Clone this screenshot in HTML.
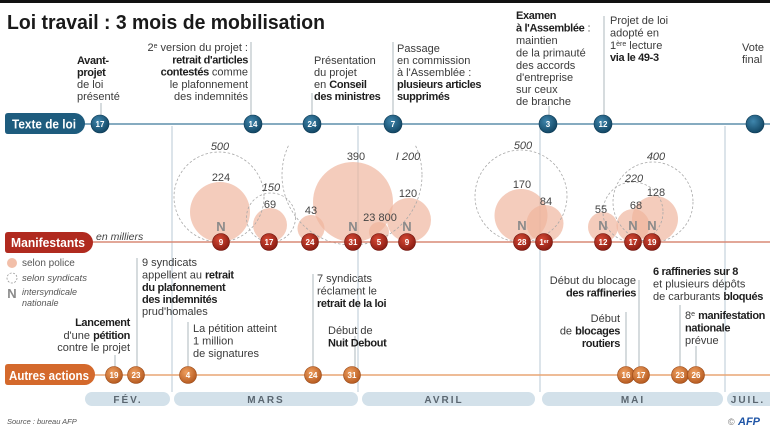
<!DOCTYPE html>
<html><head><meta charset="utf-8"><style>
html,body{margin:0;padding:0;background:#fff;}
svg{display:block;font-family:"Liberation Sans",sans-serif;}
.t{font-size:11px;fill:#3a3a3a;}
.b{font-weight:bold;fill:#1e1e1e;letter-spacing:-0.35px;}
.lbl{font-size:11px;fill:#444;text-anchor:middle;}
.it{font-style:italic;}
.num{font-size:8px;font-weight:bold;fill:#fff;text-anchor:middle;}
.N{font-size:13px;font-weight:bold;fill:#8a8a8a;text-anchor:middle;}
.vl{stroke:#b9c9d4;stroke-width:1;}
.al{stroke:#9aa6ae;stroke-width:0.8;}
.mo{font-size:10px;font-weight:bold;fill:#5a6670;text-anchor:middle;letter-spacing:2px;}
.pol{fill:#efb49c;fill-opacity:0.68;}
.syn{fill:none;stroke:#a8a8a8;stroke-width:0.8;stroke-dasharray:2.5 2;}
</style></head><body>
<svg width="770" height="433" viewBox="0 0 770 433" xmlns="http://www.w3.org/2000/svg">
<defs>
<radialGradient id="gb" cx="40%" cy="35%" r="70%"><stop offset="0" stop-color="#3f86ad"/><stop offset="1" stop-color="#0f425f"/></radialGradient>
<radialGradient id="gr" cx="40%" cy="35%" r="70%"><stop offset="0" stop-color="#d64a36"/><stop offset="1" stop-color="#861910"/></radialGradient>
<radialGradient id="go" cx="40%" cy="35%" r="70%"><stop offset="0" stop-color="#f0a060"/><stop offset="1" stop-color="#b2561c"/></radialGradient>
<clipPath id="clipbig"><rect x="0" y="145" width="770" height="100"/></clipPath>
</defs>

<!-- top bar -->
<rect x="0" y="0" width="770" height="3" fill="#111"/>
<text x="7" y="29" font-size="20" font-weight="bold" fill="#1a1a1a" textLength="318" lengthAdjust="spacingAndGlyphs">Loi travail : 3 mois de mobilisation</text>

<!-- month separator lines -->
<line class="vl" x1="172" y1="126" x2="172" y2="392"/>
<line class="vl" x1="358" y1="126" x2="358" y2="392"/>
<line class="vl" x1="540" y1="126" x2="540" y2="392"/>
<line class="vl" x1="725" y1="126" x2="725" y2="392"/>

<!-- top annotation leader lines -->
<line class="al" x1="101" y1="103" x2="101" y2="115"/>
<line class="al" x1="251" y1="42" x2="251" y2="115"/>
<line class="al" x1="312" y1="93" x2="312" y2="115"/>
<line class="al" x1="393" y1="42" x2="393" y2="115"/>
<line class="al" x1="549" y1="106" x2="549" y2="115"/>
<line class="al" x1="604" y1="16" x2="604" y2="115"/>

<!-- top annotations -->
<text class="t" x="77"><tspan x="77" y="64" class="b">Avant-</tspan><tspan x="77" y="76" class="b">projet</tspan><tspan x="77" y="88">de loi</tspan><tspan x="77" y="100">présenté</tspan></text>
<text class="t" text-anchor="end"><tspan x="248" y="51">2<tspan font-size="7" dy="-3">e</tspan><tspan dy="3"> version du projet :</tspan></tspan><tspan x="248" y="63.3" class="b">retrait d'articles</tspan><tspan x="248" y="75.6"><tspan class="b">contestés</tspan> comme</tspan><tspan x="248" y="87.9">le plafonnement</tspan><tspan x="248" y="100">des indemnités</tspan></text>
<text class="t"><tspan x="314" y="64">Présentation</tspan><tspan x="314" y="76">du projet</tspan><tspan x="314" y="88">en <tspan class="b">Conseil</tspan></tspan><tspan x="314" y="100" class="b">des ministres</tspan></text>
<text class="t"><tspan x="397" y="52">Passage</tspan><tspan x="397" y="64">en commission</tspan><tspan x="397" y="76">à l'Assemblée :</tspan><tspan x="397" y="88" class="b">plusieurs articles</tspan><tspan x="397" y="100" class="b">supprimés</tspan></text>
<text class="t"><tspan x="516" y="19" class="b">Examen</tspan><tspan x="516" y="31.5"><tspan class="b">à l'Assemblée</tspan> :</tspan><tspan x="516" y="44">maintien</tspan><tspan x="516" y="56.5">de la primauté</tspan><tspan x="516" y="69">des accords</tspan><tspan x="516" y="81">d'entreprise</tspan><tspan x="516" y="93">sur ceux</tspan><tspan x="516" y="105">de branche</tspan></text>
<text class="t"><tspan x="610" y="24">Projet de loi</tspan><tspan x="610" y="36.5">adopté en</tspan><tspan x="610" y="49">1<tspan font-size="7" dy="-3">ère</tspan><tspan dy="3"> lecture</tspan></tspan><tspan x="610" y="61" class="b">via le 49-3</tspan></text>
<text class="t"><tspan x="742" y="51">Vote</tspan><tspan x="742" y="63">final</tspan></text>

<!-- Texte de loi row -->
<line x1="84" y1="124" x2="770" y2="124" stroke="#5e8fac" stroke-width="1.5"/>
<path d="M5,116 q0,-3 3,-3 H74.5 a10.5,10.5 0 0 1 0,21 H8 q-3,0 -3,-3 Z" fill="#1e5c7e"/>
<text x="12" y="128.5" font-size="12.5" font-weight="bold" fill="#fff" textLength="64" lengthAdjust="spacingAndGlyphs">Texte de loi</text>
<g fill="url(#gb)" stroke="#0c3a55" stroke-width="0.6">
<circle cx="100" cy="124" r="9"/><circle cx="253" cy="124" r="9"/><circle cx="312" cy="124" r="9"/><circle cx="393" cy="124" r="9"/><circle cx="548" cy="124" r="9"/><circle cx="603" cy="124" r="9"/><circle cx="755" cy="124" r="9"/>
</g>
<g class="num"><text x="100" y="127" class="num">17</text><text x="253" y="127" class="num">14</text><text x="312" y="127" class="num">24</text><text x="393" y="127" class="num">7</text><text x="548" y="127" class="num">3</text><text x="603" y="127" class="num">12</text></g>

<!-- bubbles police -->
<circle class="pol" cx="220" cy="212" r="30"/>
<circle class="pol" cx="270" cy="225" r="17"/>
<circle class="pol" cx="311" cy="228.5" r="13.5"/>
<circle class="pol" cx="353" cy="202" r="40"/>
<circle class="pol" cx="379" cy="232" r="10"/>
<circle class="pol" cx="409" cy="220" r="22"/>
<circle class="pol" cx="521" cy="215.5" r="26.5"/>
<circle class="pol" cx="545" cy="223.5" r="18.5"/>
<circle class="pol" cx="603" cy="227" r="15"/>
<circle class="pol" cx="633" cy="225.5" r="16.5"/>
<circle class="pol" cx="655" cy="219" r="23"/>
<!-- bubbles syndicats -->
<circle class="syn" cx="219" cy="197" r="45"/>
<circle class="syn" cx="271" cy="217.5" r="24.5"/>
<circle class="syn" cx="352" cy="175" r="70" clip-path="url(#clipbig)"/>
<circle class="syn" cx="521" cy="196" r="46"/>
<circle class="syn" cx="633" cy="212" r="30"/>
<circle class="syn" cx="653" cy="202" r="40"/>

<!-- bubble labels -->
<text class="lbl it" x="220" y="150">500</text>
<text class="lbl" x="221" y="181">224</text>
<text class="lbl it" x="271" y="191">150</text>
<text class="lbl" x="270" y="208">69</text>
<text class="lbl" x="311" y="214">43</text>
<text class="lbl" x="356" y="160">390</text>
<text class="lbl it" x="408" y="160">I 200</text>
<text class="lbl" x="408" y="197">120</text>
<text class="lbl" x="380" y="221">23 800</text>
<text class="lbl it" x="523" y="149">500</text>
<text class="lbl" x="522" y="188">170</text>
<text class="lbl" x="546" y="205">84</text>
<text class="lbl" x="601" y="213">55</text>
<text class="lbl" x="636" y="209">68</text>
<text class="lbl it" x="634" y="182">220</text>
<text class="lbl" x="656" y="196">128</text>
<text class="lbl it" x="656" y="160">400</text>

<!-- Manifestants row -->
<line x1="92" y1="242" x2="770" y2="242" stroke="#d88a76" stroke-width="1.5"/>
<path d="M5,235 q0,-3 3,-3 H82.5 a10.5,10.5 0 0 1 0,21 H8 q-3,0 -3,-3 Z" fill="#b02a1f"/>
<text x="11" y="247" font-size="13" font-weight="bold" fill="#fff" textLength="74" lengthAdjust="spacingAndGlyphs">Manifestants</text>
<text x="96" y="240" font-size="10.5" font-style="italic" fill="#444">en milliers</text>
<g class="N"><text class="N" x="221" y="231">N</text><text class="N" x="353" y="231">N</text><text class="N" x="407" y="231">N</text><text class="N" x="522" y="230">N</text><text class="N" x="603" y="230">N</text><text class="N" x="633" y="230">N</text><text class="N" x="652" y="230">N</text></g>
<g fill="url(#gr)" stroke="#6e130c" stroke-width="0.6">
<circle cx="221" cy="242" r="8.5"/><circle cx="269" cy="242" r="8.5"/><circle cx="310" cy="242" r="8.5"/><circle cx="353" cy="242" r="8.5"/><circle cx="379" cy="242" r="8.5"/><circle cx="407" cy="242" r="8.5"/><circle cx="522" cy="242" r="8.5"/><circle cx="544" cy="242" r="8.5"/><circle cx="603" cy="242" r="8.5"/><circle cx="633" cy="242" r="8.5"/><circle cx="652" cy="242" r="8.5"/>
</g>
<text class="num" x="221" y="245">9</text><text class="num" x="269" y="245">17</text><text class="num" x="310" y="245">24</text><text class="num" x="353" y="245">31</text><text class="num" x="379" y="245">5</text><text class="num" x="407" y="245">9</text><text class="num" x="522" y="245">28</text><text class="num" x="544" y="245">1<tspan font-size="5" dy="-2">er</tspan></text><text class="num" x="603" y="245">12</text><text class="num" x="633" y="245">17</text><text class="num" x="652" y="245">19</text>

<!-- legend -->
<circle cx="12" cy="263" r="5" fill="#f2bfa9"/>
<text x="22" y="266" font-size="10" fill="#555">selon police</text>
<circle cx="12" cy="278" r="5" fill="none" stroke="#999" stroke-width="0.8" stroke-dasharray="2 1.5"/>
<text x="22" y="281" font-size="9.5" font-style="italic" fill="#555">selon syndicats</text>
<text x="12" y="298" class="N" font-size="14">N</text>
<text x="22" y="295" font-size="9" font-style="italic" fill="#555">intersyndicale</text>
<text x="22" y="306" font-size="9" font-style="italic" fill="#555">nationale</text>

<!-- bottom leader lines -->
<line class="al" x1="115" y1="355" x2="115" y2="367"/>
<line class="al" x1="137" y1="258" x2="137" y2="367"/>
<line class="al" x1="188" y1="322" x2="188" y2="367"/>
<line class="al" x1="313" y1="274" x2="313" y2="367"/>
<line class="al" x1="355" y1="336" x2="355" y2="367"/>
<line class="al" x1="626" y1="312" x2="626" y2="367"/>
<line class="al" x1="639" y1="280" x2="639" y2="367"/>
<line class="al" x1="680" y1="305" x2="680" y2="367"/>
<line class="al" x1="696" y1="346" x2="696" y2="367"/>

<!-- bottom annotations -->
<text class="t"><tspan x="142" y="266">9 syndicats</tspan><tspan x="142" y="278.5">appellent au <tspan class="b">retrait</tspan></tspan><tspan x="142" y="291" class="b">du plafonnement</tspan><tspan x="142" y="303" class="b">des indemnités</tspan><tspan x="142" y="315">prud'homales</tspan></text>
<text class="t" text-anchor="end"><tspan x="130" y="326" class="b">Lancement</tspan><tspan x="130" y="339">d'une <tspan class="b">pétition</tspan></tspan><tspan x="130" y="351">contre le projet</tspan></text>
<text class="t"><tspan x="193" y="332">La pétition atteint</tspan><tspan x="193" y="344.5">1 million</tspan><tspan x="193" y="357">de signatures</tspan></text>
<text class="t"><tspan x="317" y="282">7 syndicats</tspan><tspan x="317" y="294.5">réclament le</tspan><tspan x="317" y="307" class="b">retrait de la loi</tspan></text>
<text class="t"><tspan x="328" y="334">Début de</tspan><tspan x="328" y="346.5" class="b">Nuit Debout</tspan></text>
<text class="t" text-anchor="end"><tspan x="636" y="284">Début du blocage</tspan><tspan x="636" y="296.5" class="b">des raffineries</tspan></text>
<text class="t" text-anchor="end"><tspan x="620" y="322">Début</tspan><tspan x="620" y="334.5">de <tspan class="b">blocages</tspan></tspan><tspan x="620" y="347" class="b">routiers</tspan></text>
<text class="t"><tspan x="653" y="275" class="b">6 raffineries sur 8</tspan><tspan x="653" y="287.5">et plusieurs dépôts</tspan><tspan x="653" y="300">de carburants <tspan class="b">bloqués</tspan></tspan></text>
<text class="t"><tspan x="685" y="319">8<tspan font-size="7" dy="-3">e</tspan><tspan dy="3"> </tspan><tspan class="b">manifestation</tspan></tspan><tspan x="685" y="331.5" class="b">nationale</tspan><tspan x="685" y="344">prévue</tspan></text>

<!-- Autres actions row -->
<line x1="94" y1="375" x2="770" y2="375" stroke="#e9a575" stroke-width="1.5"/>
<path d="M5,367 q0,-3 3,-3 H84.5 a10.5,10.5 0 0 1 0,21 H8 q-3,0 -3,-3 Z" fill="#d4692c"/>
<text x="9" y="380" font-size="13" font-weight="bold" fill="#fff" textLength="80" lengthAdjust="spacingAndGlyphs">Autres actions</text>
<g fill="url(#go)" stroke="#9a4a18" stroke-width="0.6">
<circle cx="114" cy="375" r="8.5"/><circle cx="136" cy="375" r="8.5"/><circle cx="188" cy="375" r="8.5"/><circle cx="313" cy="375" r="8.5"/><circle cx="352" cy="375" r="8.5"/><circle cx="626" cy="375" r="8.5"/><circle cx="641" cy="375" r="8.5"/><circle cx="680" cy="375" r="8.5"/><circle cx="696" cy="375" r="8.5"/>
</g>
<text class="num" x="114" y="378">19</text><text class="num" x="136" y="378">23</text><text class="num" x="188" y="378">4</text><text class="num" x="313" y="378">24</text><text class="num" x="352" y="378">31</text><text class="num" x="626" y="378">16</text><text class="num" x="641" y="378">17</text><text class="num" x="680" y="378">23</text><text class="num" x="696" y="378">26</text>

<!-- months -->
<g fill="#d3e1ea">
<rect x="85" y="392" width="85" height="14" rx="7"/>
<rect x="174" y="392" width="184" height="14" rx="7"/>
<rect x="362" y="392" width="173" height="14" rx="7"/>
<rect x="542" y="392" width="181" height="14" rx="7"/>
<rect x="727" y="392" width="50" height="14" rx="7"/>
</g>
<text class="mo" x="128" y="403">FÉV.</text>
<text class="mo" x="266" y="403">MARS</text>
<text class="mo" x="444" y="403">AVRIL</text>
<text class="mo" x="633" y="403">MAI</text>
<text class="mo" x="748" y="403" letter-spacing="1">JUIL.</text>

<!-- footer -->
<text x="7" y="424" font-size="7.5" font-style="italic" fill="#555">Source : bureau AFP</text>
<text x="728" y="425" font-size="9" fill="#777">©</text>
<text x="738" y="425" font-size="11" font-weight="bold" font-style="italic" fill="#1f55a6">AFP</text>
</svg>
</body></html>
